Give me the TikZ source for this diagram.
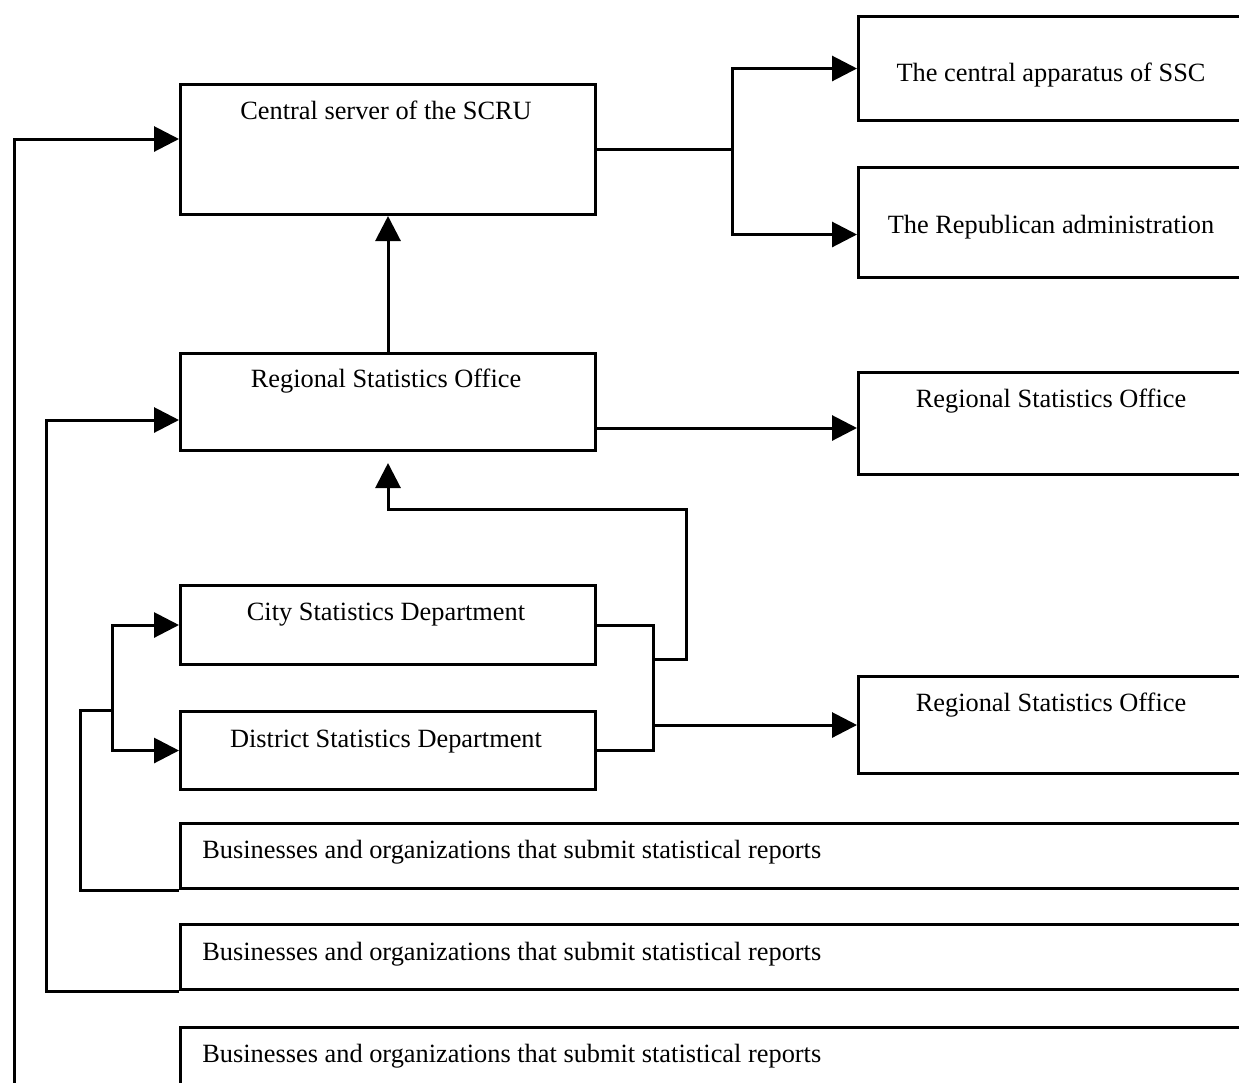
\documentclass[tikz,border=0pt]{standalone}
\usepackage{fontspec}
\setmainfont{Liberation Serif}
\usepackage{tikz}
\usetikzlibrary{arrows.meta}

\tikzset{
  unit/.style={draw=black, line width=0.6mm, rectangle, anchor=north west, inner sep=0pt},
  lbl/.style={anchor=base, inner sep=0pt, font=\fontsize{15}{18}\selectfont},
  wire/.style={line width=0.6mm}
}

\begin{document}
\begin{tikzpicture}[x=0.2mm, y=-0.2mm]
\useasboundingbox (0,0) rectangle (1239,1082);
\clip (0,0) rectangle (1239,1082);

    \node[unit, minimum width=83mm, minimum height=26mm]   (srv)   at (179,83)   {};
    \node[unit, minimum width=90mm, minimum height=20.8mm] (ssc)   at (857,15)   {};
    \node[unit, minimum width=90mm, minimum height=22mm]   (rep)   at (857,166)  {};
    \node[unit, minimum width=83mm, minimum height=19.4mm] (rso)   at (179,352)  {};
    \node[unit, minimum width=90mm, minimum height=20.4mm] (rsoR)  at (857,371)  {};
    \node[unit, minimum width=83mm, minimum height=15.8mm] (city)  at (179,584)  {};
    \node[unit, minimum width=83mm, minimum height=15.6mm] (dist)  at (179,710)  {};
    \node[unit, minimum width=90mm, minimum height=19.4mm] (rsoRR) at (857,675)  {};
    \node[unit, minimum width=220mm, minimum height=13mm]  (biz1)  at (179,822)  {};
    \node[unit, minimum width=220mm, minimum height=13mm]  (biz2)  at (179,923)  {};
    \node[unit, minimum width=220mm, minimum height=20mm]  (biz3)  at (179,1026) {};

    \node[lbl] (srv-t)   at (386,119)  {Central server of the SCRU};
    \node[lbl] (ssc-t)   at (1051,81)  {The central apparatus of SSC};
    \node[lbl] (rep-t)   at (1051,233) {The Republican administration};
    \node[lbl] (rso-t)   at (386,387)  {Regional Statistics Office};
    \node[lbl] (rsoR-t)  at (1051,407) {Regional Statistics Office};
    \node[lbl] (city-t)  at (386,620)  {City Statistics Department};
    \node[lbl] (dist-t)  at (386,747)  {District Statistics Department};
    \node[lbl] (rsoRR-t) at (1051,711) {Regional Statistics Office};
    \node[lbl, anchor=base west] (biz1-t) at (202,858)  {Businesses and organizations that submit statistical reports};
    \node[lbl, anchor=base west] (biz2-t) at (202,960)  {Businesses and organizations that submit statistical reports};
    \node[lbl, anchor=base west] (biz3-t) at (202,1062) {Businesses and organizations that submit statistical reports};

    \path (srv.east) -- ++(135,0) coordinate (sJ);
    \coordinate (rOut)  at (594,428);
    \coordinate (cJ)    at (653,659);
    \coordinate (uTurn) at (686,509);
    \coordinate (dJ)    at (112,710);
    \coordinate (bJ1)   at (80,710);
    \coordinate (bJ2)   at (46,420);
    \coordinate (bJ3)   at (14,139);
    \coordinate (bEnd)  at (14,1090);

\begin{scope}[>={Triangle[length=5mm, width=5mm]}, every path/.style={wire}]
    % up the hierarchy
    \draw (srv.east) -- (sJ);
    \draw [->] (sJ) |- (ssc.west);
    \draw [->] (sJ) |- ([yshift=-2.4mm]rep.west);
    \draw [->] (rso) -- (srv);
    \draw [->] (rOut) -- (rOut -| rsoR.west);
    \draw (city.east) -| (cJ);
    \draw (dist.east) -| (cJ);
    \draw [->, shorten >=2.2mm] (cJ) -| (uTurn) -| (rso.south);
    \draw [->] (cJ |- rsoRR.west) -- (rsoRR.west);
    % reports from the businesses
    \draw [->] (dJ) |- (city.west);
    \draw [->] (dJ) |- (dist.west);
    \draw (biz1.south west) -| (bJ1) -- (dJ);
    \draw [->] (biz2.south west) -| (bJ2) -- (bJ2 -| rso.west);
    \draw [->] (bEnd) -- (bJ3) -- (bJ3 -| srv.west);
\end{scope}
\end{tikzpicture}
\end{document}
